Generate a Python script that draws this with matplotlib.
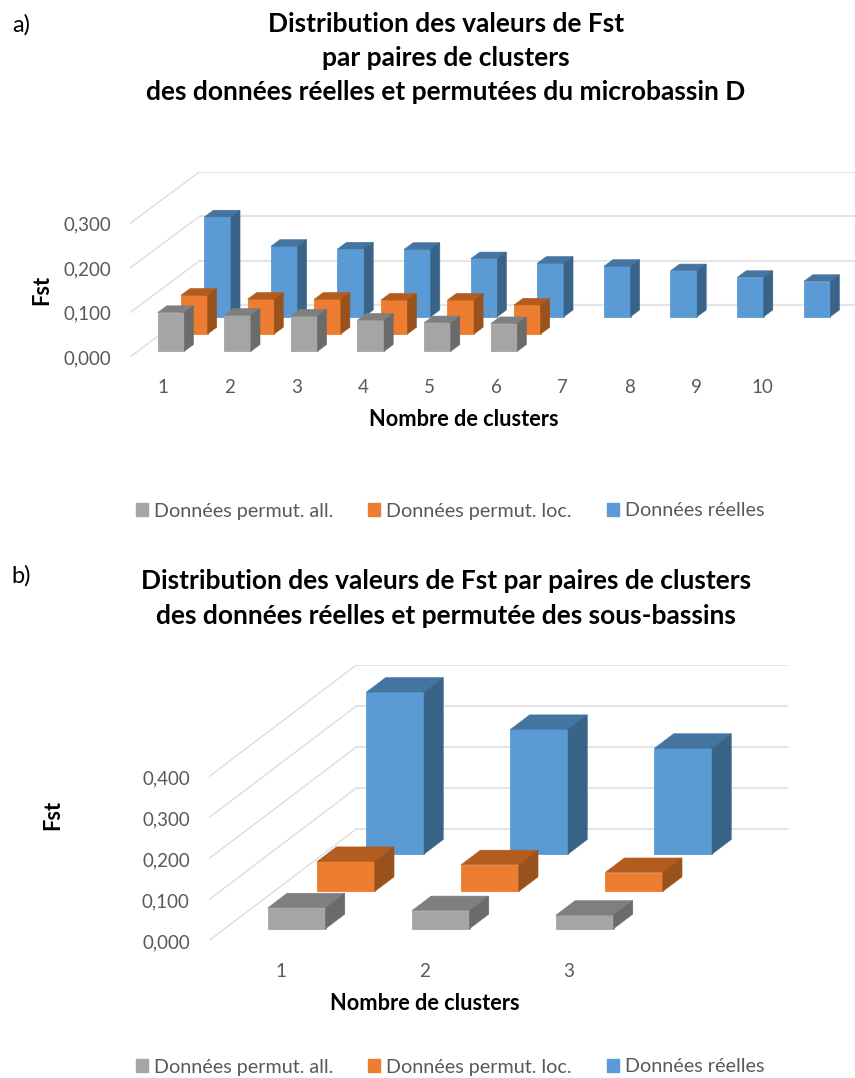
"""Redraw the two pseudo-3D Fst bar charts with oblique boxes on plain 2D axes."""

import matplotlib

matplotlib.use("Agg")
import matplotlib.pyplot as plt
from matplotlib.patches import Patch, Polygon

plt.rcParams["font.family"] = ["Lato", "DejaVu Sans"]

SERIES_NAMES = ["Données permut. all.", "Données permut. loc.", "Données réelles"]

# panel a
A_CATEGORIES = ["1", "2", "3", "4", "5", "6", "7", "8", "9", "10"]
A_PERMUT_ALL = [0.087, 0.081, 0.079, 0.070, 0.064, 0.062]
A_PERMUT_LOC = [0.087, 0.078, 0.078, 0.076, 0.076, 0.065]
A_REAL = [0.224, 0.158, 0.152, 0.151, 0.130, 0.120, 0.113, 0.103, 0.088, 0.079]
A_TICKS = [0.0, 0.1, 0.2, 0.3]

# panel b
B_CATEGORIES = ["1", "2", "3"]
B_PERMUT_ALL = [0.051, 0.044, 0.033]
B_PERMUT_LOC = [0.073, 0.065, 0.046]
B_REAL = [0.395, 0.304, 0.258]
B_TICKS = [0.0, 0.1, 0.2, 0.3, 0.4]

# front, top and side colours for each series
FACES = [
	("#A5A5A5", "#7F7F7F", "#6B6B6B"),
	("#ED7D31", "#B35C20", "#9A521C"),
	("#5B9BD5", "#4475A1", "#3A6487"),
]
TEXT_GREY = "#595959"
GRID_GREY = "#E4E4E4"
WIDTH, HEIGHT = 855, 1078


def tick_label(value):
	return f"{value:.3f}".replace(".", ",")


def draw_box(ax, x, base, width, value, dx, dy, faces):
	"""Draw one bar as a front, top and side polygon."""
	front, top, side = faces
	y0, y1 = base, base + value
	ax.add_patch(Polygon(
		[(x, y0), (x + width, y0), (x + width, y1), (x, y1)],
		facecolor=front, edgecolor=front, linewidth=0.6, zorder=3,
	))
	ax.add_patch(Polygon(
		[(x, y1), (x + width, y1), (x + width + dx, y1 + dy), (x + dx, y1 + dy)],
		facecolor=top, edgecolor=top, linewidth=0.4, zorder=3,
	))
	ax.add_patch(Polygon(
		[(x + width, y0), (x + width + dx, y0 + dy), (x + width + dx, y1 + dy), (x + width, y1)],
		facecolor=side, edgecolor=side, linewidth=0.4, zorder=3,
	))


def draw_panel(fig, box, categories, series, ticks, slot_dx, slot_dy):
	"""Draw one chart; box is (left px, floor y px, px per category, px per Fst unit)."""
	left, floor, cat_px, unit_px = box
	n_slots = len(series)
	x_max = len(categories) + n_slots * slot_dx
	y_max = ticks[-1] + n_slots * slot_dy
	ax = fig.add_axes([
		left / WIDTH,
		1 - floor / HEIGHT,
		x_max * cat_px / WIDTH,
		y_max * unit_px / HEIGHT,
	])
	ax.set_xlim(0, x_max)
	ax.set_ylim(0, y_max)
	ax.patch.set_visible(False)
	for spine in ax.spines.values():
		spine.set_visible(False)

	# walls: a diagonal on the side wall, then the flat line on the back wall
	back_x = n_slots * slot_dx
	back_y = n_slots * slot_dy
	for tick in ticks:
		ax.plot([0, back_x], [tick, tick + back_y], color="#DDDDDD", lw=1.0, zorder=1)
		ax.plot([back_x, x_max], [tick + back_y] * 2, color=GRID_GREY, lw=1.5, zorder=1)

	# back series first so the front ones cover it
	for slot in reversed(range(n_slots)):
		for i, value in enumerate(series[slot]):
			x = i + 0.3 + (slot + 0.33) * slot_dx
			base = (slot + 0.33) * slot_dy
			draw_box(ax, x, base, 0.4, value, 0.39 * slot_dx, 0.39 * slot_dy, FACES[slot])

	ax.set_xticks([i + 0.5 for i in range(len(categories))], categories)
	ax.set_yticks(ticks, [tick_label(t) for t in ticks])
	ax.tick_params(axis="both", length=0, labelsize=13.5, labelcolor=TEXT_GREY)
	ax.tick_params(axis="x", pad=15.5)
	ax.tick_params(axis="y", pad=13.5)
	return ax


def add_legend(fig, y_px):
	handles = [Patch(facecolor=f[0], edgecolor=f[0]) for f in FACES]
	fig.legend(
		handles, SERIES_NAMES, ncols=3, frameon=False,
		loc="center", bbox_to_anchor=(450 / WIDTH, 1 - y_px / HEIGHT),
		fontsize=14.2, labelcolor=TEXT_GREY,
		handlelength=0.6, handleheight=0.6, handletextpad=0.3, columnspacing=1.8,
	)


def put(fig, x_px, y_px, text, **kwargs):
	fig.text(x_px / WIDTH, 1 - y_px / HEIGHT, text, ha="center", va="center", **kwargs)


def main():
	fig = plt.figure(figsize=(WIDTH / 100, HEIGHT / 100), dpi=100)

	draw_panel(
		fig, (130, 357, 66.6, 445),
		A_CATEGORIES, [A_PERMUT_ALL, A_PERMUT_LOC, A_REAL], A_TICKS,
		0.35, 0.0389,
	)
	draw_panel(
		fig, (208.5, 941, 144, 410),
		B_CATEGORIES, [B_PERMUT_ALL, B_PERMUT_LOC, B_REAL], B_TICKS,
		0.342, 0.091,
	)

	bold = {"fontweight": "bold", "color": "black"}
	put(fig, 446, 24, "Distribution des valeurs de Fst", fontsize=19, **bold)
	put(fig, 446, 58, "par paires de clusters", fontsize=19, **bold)
	put(fig, 446, 92, "des données réelles et permutées du microbassin D", fontsize=19, **bold)
	put(fig, 446, 581, "Distribution des valeurs de Fst par paires de clusters", fontsize=19, **bold)
	put(fig, 446, 616, "des données réelles et permutée des sous-bassins", fontsize=19, **bold)

	put(fig, 21, 25, "a)", fontsize=17, color="black")
	put(fig, 21, 576, "b)", fontsize=17, color="black")

	put(fig, 464, 419, "Nombre de clusters", fontsize=15.7, **bold)
	put(fig, 425, 1003, "Nombre de clusters", fontsize=15.7, **bold)
	put(fig, 42, 290, "Fst", fontsize=15.7, rotation=90, **bold)
	put(fig, 53, 815, "Fst", fontsize=15.7, rotation=90, **bold)

	add_legend(fig, 511)
	add_legend(fig, 1067)

	fig.savefig("out.png", dpi=100)
	plt.close(fig)


if __name__ == "__main__":
	main()
